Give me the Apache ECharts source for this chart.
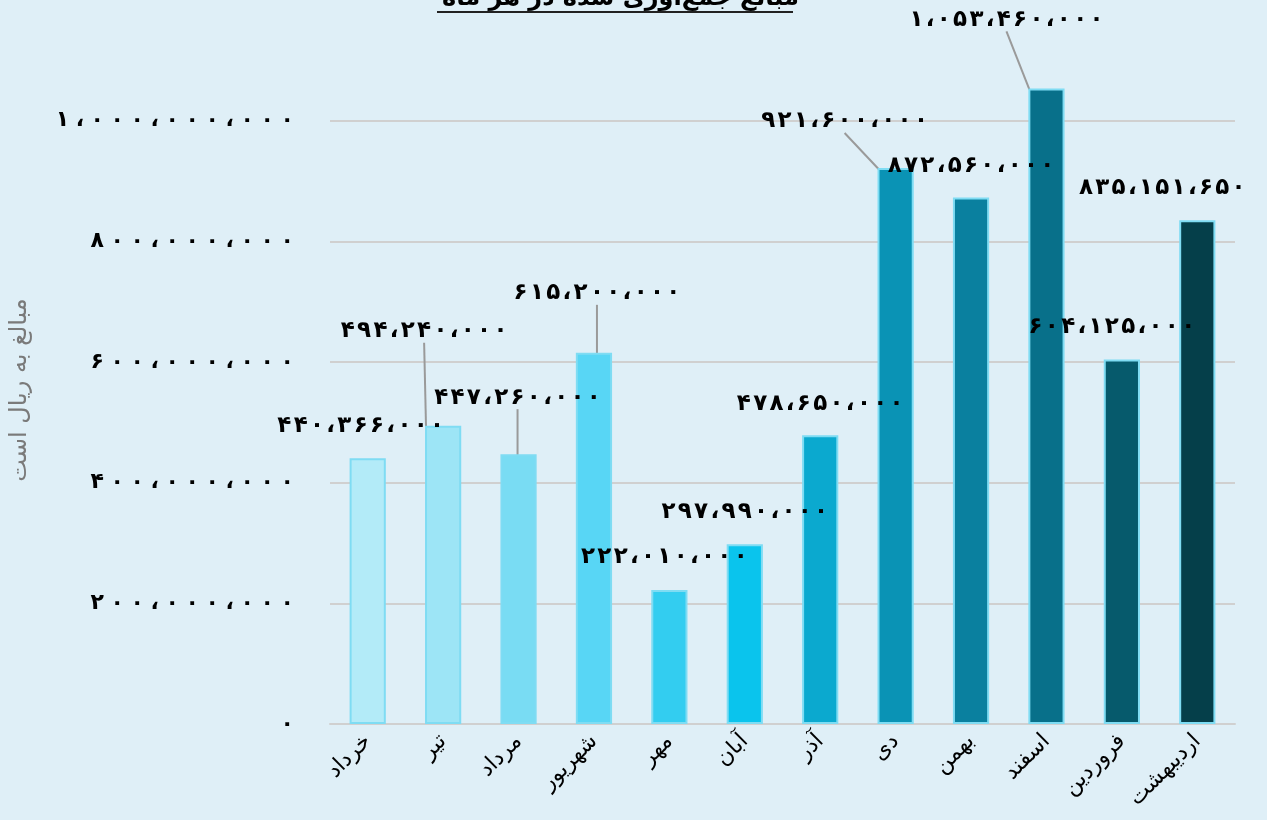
<!DOCTYPE html>
<html>
<head>
<meta charset="utf-8">
<script src="https://cdn.jsdelivr.net/npm/echarts@6/dist/echarts.min.js"></script>
<style>
  html, body { margin: 0; padding: 0; background: #dfeff7; }
  #chart { width: 1267px; height: 820px; }
</style>
</head>
<body>
<div id="chart"></div>
<script>
let months = ['خرداد', 'تیر', 'مرداد', 'شهریور', 'مهر', 'آبان', 'آذر', 'دی', 'بهمن', 'اسفند', 'فروردین', 'اردیبهشت'];
let amounts = [440366000, 494240000, 447260000, 615200000, 222010000, 297990000, 478650000, 921600000, 872560000, 1053460000, 604125000, 835151650];
let barColors = ['#b3ebf8', '#9de5f6', '#79dcf3', '#58d6f5', '#33cdf0', '#0ac4ed', '#0ba9cf', '#0a93b5', '#0a809f', '#08708a', '#065a6c', '#053f4a'];
// label nudges (dx, dy) like the hand-moved labels in the original
let labelOffsets = [[-7, -16], [-19, -78], [-1, -40], [3, -43], [-5, -17], [0, -16], [0, -15], [-51, -30], [0, -15], [-40, -52], [-10, -16], [-35, -16]];
let withLeader = [1, 2, 3, 7, 9];

let faDigits = '۰۱۲۳۴۵۶۷۸۹';
function toFa(n, gap) {
    let s = String(Math.round(n)).replace(/\B(?=(\d{3})+(?!\d))/g, '،');
    s = s.replace(/\d/g, function (d) { return faDigits[+d]; });
    return s.split('').join(gap);
}

let gridColor = '#d0d0d0';

let option = {
    backgroundColor: '#dfeff7',
    textStyle: { fontFamily: 'DejaVu Sans' },
    title: {
        text: 'مبالغ جمع‌آوری شده در هر ماه',
        left: 437,
        top: -18,
        textStyle: { fontSize: 24, fontWeight: 'bold', color: '#000', fontFamily: 'DejaVu Sans' }
    },
    graphic: [
        { type: 'line', shape: { x1: 437, y1: 12, x2: 793, y2: 12 }, style: { stroke: '#222', lineWidth: 2 } },
        {
            type: 'text', x: 20, y: 390, rotation: Math.PI / 2,
            style: { text: 'مبالغ به ریال است', fill: '#7a7a7a', fontSize: 24, fontFamily: 'DejaVu Sans', align: 'center', verticalAlign: 'middle' }
        }
    ],
    grid: { left: 330, right: 32, top: 0, bottom: 96 },
    xAxis: {
        type: 'category',
        data: months,
        axisTick: { show: false },
        axisLine: { lineStyle: { color: gridColor, width: 2 } },
        axisLabel: { rotate: 45, interval: 0, fontSize: 22, color: '#000', margin: 14 }
    },
    yAxis: {
        type: 'value',
        min: 0,
        max: 1200000000,
        interval: 200000000,
        axisLine: { show: false },
        axisTick: { show: false },
        splitLine: {
            lineStyle: {
                color: [gridColor, gridColor, gridColor, gridColor, gridColor, gridColor, 'rgba(0,0,0,0)'],
                width: 2
            }
        },
        axisLabel: {
            fontSize: 22, fontWeight: 'bold', color: '#000', margin: 36,
            formatter: function (v) { return v >= 1200000000 ? '' : toFa(v, '\u2009\u200a'); }
        }
    },
    series: [{
        type: 'bar',
        barWidth: '48%',
        data: amounts.map(function (v, i) {
            return {
                value: v,
                itemStyle: { color: barColors[i] },
                labelLine: { show: withLeader.indexOf(i) >= 0 }
            };
        }),
        itemStyle: { borderColor: '#7fdcf3', borderWidth: 2 },
        label: {
            show: true,
            position: 'top',
            distance: 5,
            fontSize: 23,
            fontWeight: 'bold',
            color: '#000',
            formatter: function (p) { return toFa(p.value, '\u200a'); }
        },
        labelLine: { show: false, lineStyle: { color: '#9a9a9a', width: 2 } },
        labelLayout: function (p) {
            let o = labelOffsets[p.dataIndex];
            return { dx: o[0], dy: o[1] };
        }
    }]
};

let chart = echarts.init(document.getElementById('chart'));
chart.setOption(option);
</script>
</body>
</html>
